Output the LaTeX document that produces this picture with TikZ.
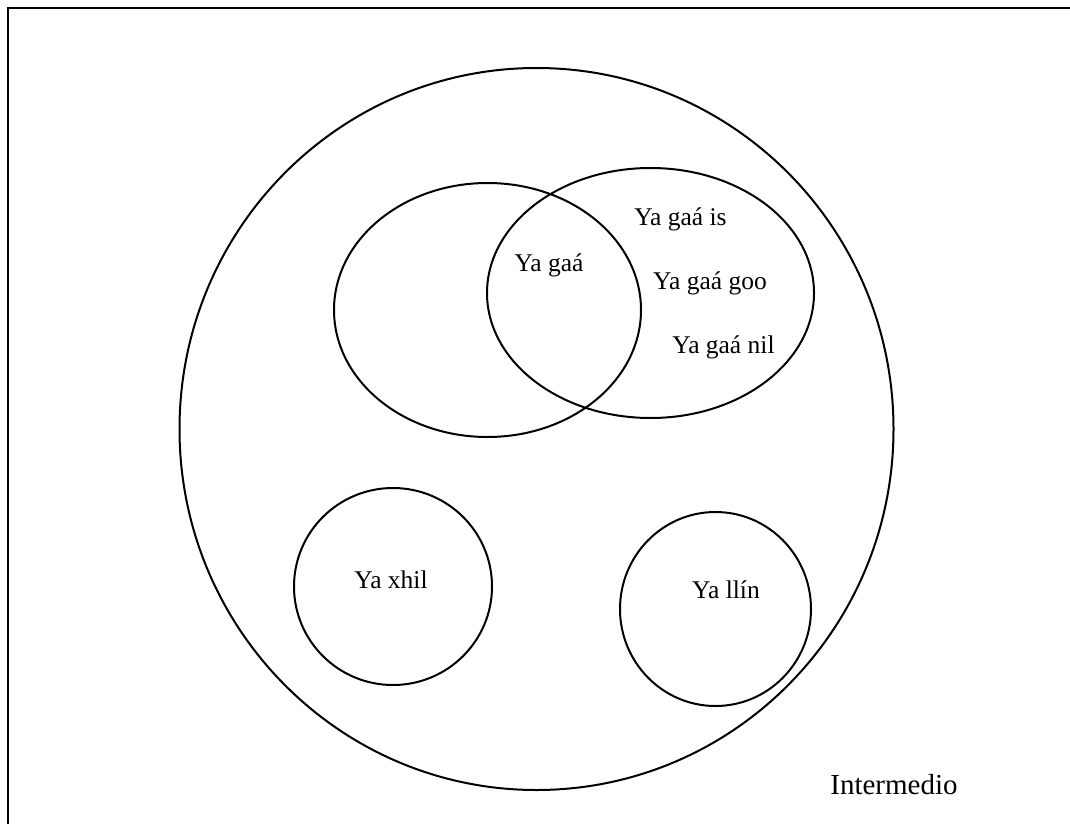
\documentclass[tikz,border=0pt]{standalone}
\usepackage{fontspec}
\setmainfont{Liberation Serif}
\usetikzlibrary{shapes.geometric}
\begin{document}
\begin{tikzpicture}[x=1pt,y=-1pt,
  ring/.style={draw=black, line width=2pt, ellipse, inner sep=0pt},
  lbl/.style={font=\fontsize{25.5}{30}\selectfont, inner sep=0pt, anchor=base},
  biglbl/.style={font=\fontsize{29}{34}\selectfont, inner sep=0pt, anchor=base}]
\useasboundingbox (0,0) rectangle (1070,824);
\coordinate (fbl) at (8,824);
\coordinate (ftl) at (8,8);
\coordinate (ftr) at (1070,8);
\draw[line width=2.4pt] (fbl) -- (ftl) -- (ftr);
\node[ring, minimum width=714pt, minimum height=722pt] (outer) at (536.5,429) {};
\node[ring, minimum width=307pt, minimum height=254pt] (left) at (487.5,310) {};
\node[ring, minimum width=327pt, minimum height=250pt] (right) at (650.5,293) {};
\node[ring, minimum width=198pt, minimum height=197pt] (xhil) at (393,586.5) {};
\node[ring, minimum width=191pt, minimum height=194pt] (llin) at (715.5,609) {};
\node[lbl] (t1) at (549,271) {Ya gaá};
\node[lbl] (t2) at (680.5,225) {Ya gaá is};
\node[lbl] (t3) at (710,289) {Ya gaá goo};
\node[lbl] (t4) at (723.5,353) {Ya gaá nil};
\node[lbl] (t5) at (391,588) {Ya xhil};
\node[lbl] (t6) at (726,598) {Ya llín};
\node[biglbl] (t7) at (894,794) {Intermedio};
\end{tikzpicture}
\end{document}
